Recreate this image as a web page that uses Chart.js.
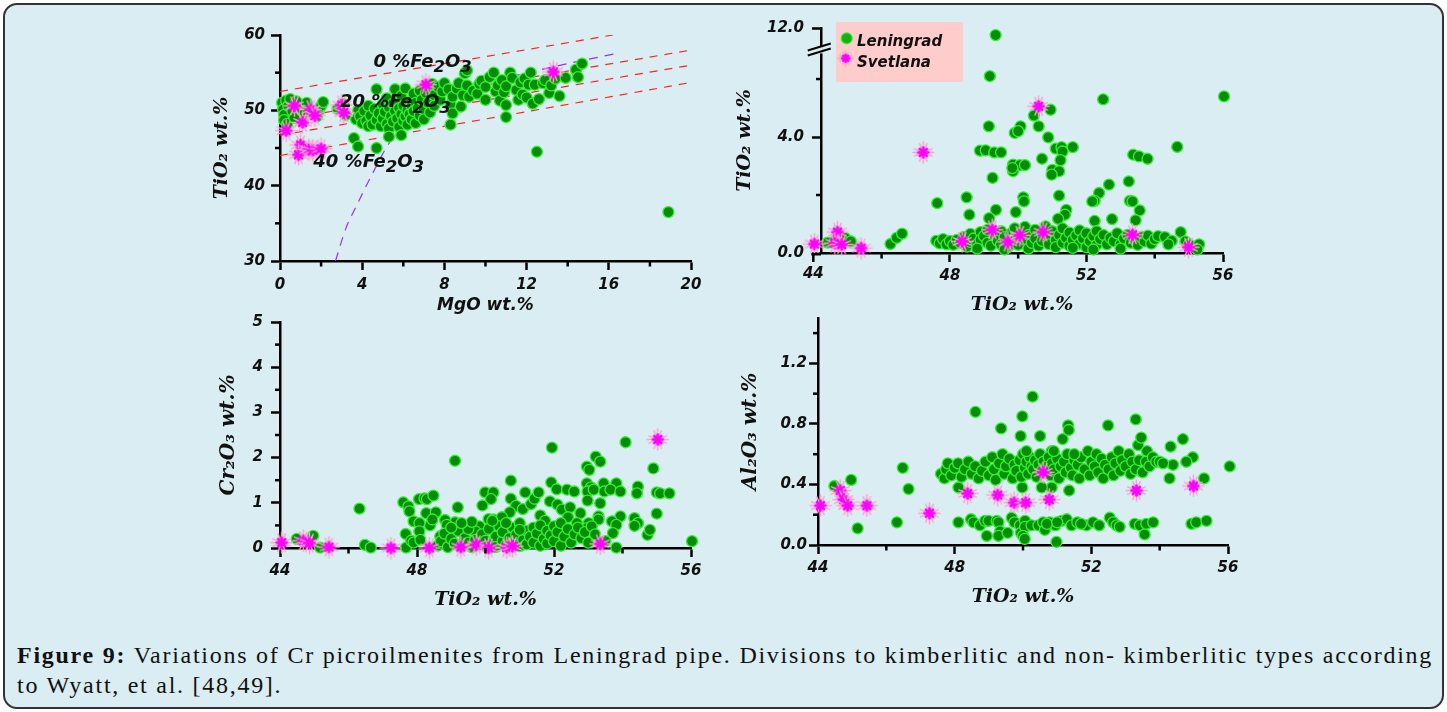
<!DOCTYPE html>
<html>
<head>
<meta charset="utf-8">
<script src="https://cdn.jsdelivr.net/npm/chart.js@4.4.1/dist/chart.umd.min.js"></script>
<style>
html, body { margin: 0; padding: 0; background: #fff; }
body { width: 1447px; height: 712px; position: relative; overflow: hidden; }
#frame { position: absolute; left: 3px; top: 3px; width: 1437px; height: 702px; border: 2px solid #333; border-radius: 14px; background: #d9edf2; }
canvas { position: absolute; }
#cap { position: absolute; left: 17px; top: 640px; width: 1416px; font-family: "Liberation Serif", serif; font-size: 24px; line-height: 30px; color: #111; }
#cap .l1 { text-align: justify; text-align-last: justify; }
</style>
</head>
<body>
<div id="frame"></div>
<canvas id="c1" width="530" height="310" style="left:180px;top:15px"></canvas>
<canvas id="c2" width="530" height="315" style="left:720px;top:5px"></canvas>
<canvas id="c3" width="530" height="310" style="left:180px;top:305px"></canvas>
<canvas id="c4" width="530" height="315" style="left:720px;top:300px"></canvas>
<div id="cap">
  <div class="l1"><b>Figure 9:</b> Variations of Cr picroilmenites from Leningrad pipe. Divisions to kimberlitic and non- kimberlitic types according</div>
  <div>to Wyatt, et al. [48,49].</div>
</div>
<script>
// ---------- данные ----------
// панель 1: MgO (x) – TiO2 (y)
const p1Len = [
  [0.1,51.0],[0.15,50.1],[0.2,49.4],[0.3,51.3],[0.4,50.6],[0.5,51.5],[0.6,49.9],[0.8,51.2],[0.2,48.7],[0.35,48.2],
  [1.0,50.3],[1.2,49.7],[1.3,51.0],[1.8,49.2],[1.9,50.0],[2.0,50.6],[2.1,51.1],[0.7,49.0],
  [2.8,50.2],[3.1,50.8],[3.2,49.4],
  [3.7,48.8],[3.8,50.0],[3.9,49.2],[4.0,48.3],[4.1,49.9],[4.2,48.6],[4.3,47.9],[4.3,50.6],[4.4,49.3],[4.5,48.1],
  [4.6,50.2],[4.7,52.8],[4.7,48.7],[4.8,49.6],[4.9,47.9],[5.0,50.8],[5.0,48.9],[5.1,49.8],[5.2,51.6],[5.2,48.2],
  [5.3,50.4],[5.3,47.6],[5.4,49.2],[5.5,50.9],[5.5,48.5],[5.6,49.9],[5.6,52.8],[5.7,48.9],[5.7,51.3],[5.8,50.3],
  [5.8,47.8],[5.9,49.5],[5.9,51.9],[6.0,48.6],[6.0,50.6],[6.1,49.2],[6.1,52.9],[6.2,50.0],[6.2,48.1],[6.3,51.2],
  [6.3,49.5],[6.4,50.6],[6.4,48.8],[6.5,52.2],[6.5,49.9],[6.6,51.0],[6.6,48.3],[6.7,50.3],[6.8,52.6],[6.8,49.3],
  [6.9,51.4],[7.0,50.1],[7.0,48.8],[7.1,52.3],[7.2,51.0],[7.3,49.7],[7.4,53.5],[7.5,52.0],[7.5,50.6],[7.7,53.1],[7.8,51.4],
  [3.6,46.3],[3.8,45.2],[4.7,45.0],[5.3,46.5],[5.9,46.7],[8.3,48.1],
  [7.9,52.5],[8.0,53.6],[8.2,52.8],[8.3,50.8],[8.4,49.6],[8.4,51.8],[8.6,52.9],[8.7,53.6],[8.8,50.5],[8.9,52.0],
  [9.0,54.9],[9.1,55.3],[9.1,53.3],[9.2,51.8],[9.4,52.6],[9.6,52.2],[9.7,53.5],[9.8,53.9],[10.0,51.4],[10.0,53.1],
  [10.2,54.4],[10.4,55.0],[10.5,52.5],[10.6,53.3],[10.7,51.3],[10.8,54.0],[10.9,52.4],[11.0,50.7],[11.0,53.2],[11.2,55.0],
  [11.3,54.3],[11.5,52.7],[11.6,51.4],[11.7,53.7],[11.8,52.1],[11.9,54.2],[12.0,51.7],[12.1,53.4],[12.2,55.0],[12.3,50.9],
  [12.4,53.4],[12.6,51.5],[12.8,53.6],[12.9,54.0],[13.1,52.3],[13.2,53.3],[13.4,54.2],[13.6,51.9],[13.9,54.3],[14.4,55.4],
  [14.5,54.4],[14.7,56.2],
  [11.0,49.1],[12.5,44.5],[18.9,36.5]
];
const p1Svet = [
  [0.3,47.3],[0.7,50.6],[1.1,48.4],[1.5,50.1],[1.7,49.3],[3.0,50.7],[3.1,49.7],
  [1.0,45.4],[0.9,44.1],[1.4,44.8],[1.6,44.7],[2.0,44.9],[7.1,53.4],[13.3,55.1]
];
// линии 0 / 20 / 40 % Fe2O3 и граница (фиолетовая)
const fe0 = [[0,52.5],[16.2,60.0]];
const fe20a = [[0,48.7],[20,58.0]];
const fe20b = [[0,46.7],[20,56.0]];
const fe40 = [[0,44.0],[20,53.7]];
const kimbCurve = [[2.7,30],[3.2,34.3],[3.7,37.2],[4.5,41.6],[5.3,45.6],[6.3,48.6],[7.5,50.9],[9.0,52.8],
                   [10.4,54.0],[11.6,54.7],[12.7,55.4],[14.5,56.5],[16.3,57.5]];
const feLabels = ['0 %', '20 %', '40 %'];

// панель 2: TiO2 (x) – TiO2 (y, ось с разрывом 7 -> 12)
const p2Len = [
  [49.34,10.4],[49.17,6.1],[52.49,5.3],[56.03,5.4],[50.95,4.94],[50.46,4.74],[50.07,4.37],[49.14,4.37],[49.9,4.14],[50.0,4.2],
  [50.6,4.37],[50.88,3.99],[48.88,3.53],[49.05,3.54],[49.3,3.47],[49.5,3.47],[49.85,3.05],[50.05,3.03],[50.2,3.03],[49.85,2.82],
  [49.83,2.93],[50.7,3.25],[51.1,3.6],[51.27,3.65],[51.3,3.5],[51.6,3.65],[51.24,3.2],[51.0,2.87],[51.2,2.82],[50.98,2.7],
  [49.25,2.59],[53.37,3.39],[53.54,3.33],[53.79,3.25],[54.66,3.66],[53.24,2.47],[52.66,2.36],[52.37,2.07],[52.24,1.8],[52.17,1.78],
  [53.27,1.8],[53.35,1.78],[53.56,1.47],[53.44,1.13],[52.75,1.17],[52.24,1.11],[51.2,1.98],[51.41,1.49],[51.37,1.32],[51.17,1.18],
  [50.15,1.92],[50.17,1.78],[49.93,1.41],[48.49,1.92],[48.57,1.32],[49.35,1.49],[49.15,1.2],[47.63,1.72],
  [46.26,0.31],[46.44,0.52],[46.6,0.67],[44.42,0.36],[44.63,0.4],[44.93,0.52],[45.1,0.4],
  [54.76,0.72],[54.9,0.4],[55.0,0.3],[55.3,0.3],[55.25,0.12],
  [47.6,0.42],[47.7,0.33],[47.8,0.48],[47.9,0.3],[48.0,0.41],[48.1,0.28],[48.2,0.45],[48.3,0.35],[48.4,0.55],[48.5,0.22],
  [48.6,0.66],[48.6,0.38],[48.7,0.5],[48.8,0.3],[48.9,0.72],[48.9,0.45],[49.0,0.58],[49.1,0.35],[49.1,0.8],[49.2,0.25],
  [49.3,0.62],[49.4,0.42],[49.5,0.75],[49.5,0.3],[49.6,0.55],[49.7,0.2],[49.8,0.68],[49.8,0.4],[49.9,0.85],[50.0,0.52],
  [50.0,0.28],[50.1,0.72],[50.2,0.45],[50.2,0.9],[50.3,0.15],[50.3,0.62],[50.4,0.35],[50.5,0.8],[50.5,0.5],[50.6,0.25],
  [50.7,0.68],[50.7,0.42],[50.8,0.92],[50.9,0.55],[50.9,0.3],[51.0,0.75],[51.1,0.45],[51.1,0.2],[51.2,0.62],[51.3,0.85],
  [51.3,0.35],[51.4,0.52],[51.5,0.7],[51.5,0.25],[51.6,0.45],[51.7,0.6],[51.8,0.78],[51.8,0.32],[51.9,0.5],[52.0,0.2],
  [52.0,0.68],[52.1,0.4],[52.2,0.58],[52.3,0.28],[52.3,0.75],[52.4,0.48],[52.5,0.62],[52.6,0.3],[52.7,0.52],[52.8,0.4],
  [52.9,0.68],[53.0,0.3],[53.1,0.5],[53.2,0.62],[53.3,0.35],[53.4,0.48],[53.5,0.28],[53.6,0.55],[53.7,0.4],[53.8,0.6],
  [53.9,0.32],[54.0,0.48],[54.1,0.58],[54.3,0.55],[54.5,0.42],[54.4,0.3],[53.0,0.15],[52.2,0.12],[51.6,0.18],[49.6,0.12],[48.8,0.15]
];
const p2Svet = [
  [44.03,0.31],[44.71,0.72],[44.63,0.34],[44.83,0.29],[45.4,0.17],[47.22,3.47],[48.36,0.4],
  [49.24,0.8],[49.7,0.38],[50.05,0.61],[50.6,5.06],[50.73,0.72],[53.35,0.63],[54.99,0.2]
];

// панель 3: TiO2 – Cr2O3
const p3Len = [
  [44.49,0.2],[44.97,0.27],[45.17,0.01],[46.32,0.87],[46.48,0.07],[46.65,0.01],
  [47.6,1.01],[47.75,0.92],[47.78,0.81],[47.67,0.31],[47.68,0.01],[47.83,0.16],[47.9,0.59],[47.9,0.12],
  [48.06,1.08],[48.22,1.1],[48.29,1.08],[48.48,1.16],[48.27,0.77],[48.55,0.79],[48.38,0.5],[48.45,0.63],[48.07,0.55],[48.07,0.37],[48.1,0.18],
  [49.11,1.93],[49.19,0.9],[49.11,0.57],[49.38,0.51],[48.82,0.62],[48.87,0.51],[48.68,0.26],
  [49.99,1.23],[50.23,1.23],[50.16,1.08],[49.91,0.94],[50.09,0.64],[50.23,0.63],[49.82,0.48],[49.7,0.37],
  [50.74,1.49],[50.74,1.09],[50.89,0.93],[50.71,0.79],[50.48,0.68],[51.16,1.23],[51.09,0.86],[51.33,0.97],[51.43,1.09],[51.55,1.23],[51.6,0.72],[51.74,0.6],
  [51.94,2.22],[51.92,1.45],[52.08,1.3],[51.88,1.03],[52.1,0.96],[52.23,0.85],[52.38,1.29],[52.59,1.25],[52.47,0.9],[52.41,0.68],[52.77,0.77],[52.67,0.55],
  [52.96,1.8],[53.03,1.73],[53.22,2.02],[53.35,1.91],[52.96,1.43],[53.08,1.34],[52.98,1.25],[52.98,1.05],[53.16,1.29],[53.45,1.43],[53.47,1.25],
  [53.35,0.99],[53.3,0.7],[53.3,0.63],[53.01,0.55],[52.96,0.44],
  [53.82,1.43],[53.65,1.29],[53.94,1.25],[53.94,0.7],[53.69,0.59],[53.82,0.51],[53.72,0.33],[53.82,0.01],
  [54.09,2.34],[54.45,1.36],[54.42,1.21],[54.35,0.66],[54.45,0.55],[54.35,0.49],[54.73,0.29],[54.8,0.4],
  [54.9,1.76],[55.0,1.23],[55.1,1.21],[55.37,1.21],[55.0,0.76],[56.03,0.15],
  [48.6,0.05],[48.7,0.15],[48.8,0.32],[48.9,0.02],[49.0,0.2],[49.1,0.1],[49.2,0.38],[49.3,0.05],[49.4,0.22],[49.5,0.12],
  [49.5,0.42],[49.6,0.02],[49.7,0.18],[49.8,0.08],[49.9,0.3],[50.0,0.05],[50.0,0.16],[50.1,0.42],[50.2,0.1],[50.3,0.25],
  [50.3,0.02],[50.4,0.48],[50.5,0.15],[50.5,0.35],[50.6,0.06],[50.7,0.22],[50.8,0.45],[50.8,0.12],[50.9,0.3],[51.0,0.04],
  [51.0,0.55],[51.1,0.18],[51.2,0.38],[51.2,0.08],[51.3,0.25],[51.4,0.45],[51.4,0.12],[51.5,0.32],[51.6,0.05],[51.6,0.5],
  [51.7,0.2],[51.8,0.38],[51.8,0.1],[51.9,0.28],[52.0,0.48],[52.0,0.15],[52.1,0.35],[52.2,0.05],[52.2,0.55],[52.3,0.25],
  [52.4,0.42],[52.5,0.12],[52.6,0.3],[52.7,0.45],[52.8,0.22],[52.9,0.35],[53.0,0.12],[53.1,0.48],[53.2,0.3],[53.5,0.15],
  [49.0,0.45],[49.6,0.58],[50.2,0.6],[50.6,0.55],[51.0,0.4],[49.3,0.55]
];
const p3Svet = [
  [44.05,0.12],[44.68,0.16],[44.86,0.11],[45.43,0.02],[47.24,0.0],[48.36,0.0],[49.28,0.02],
  [49.73,0.07],[50.09,0.0],[50.62,0.01],[50.79,0.04],[53.35,0.09],[55.03,2.4]
];

// панель 4: TiO2 – Al2O3
const p4Len = [
  [44.48,0.39],[44.97,0.43],[45.16,0.11],[46.31,0.15],[46.48,0.51],[46.65,0.37],[48.61,0.88],[49.98,0.85],[50.28,0.98],[49.36,0.77],
  [49.93,0.72],[50.5,0.72],[51.16,0.7],[51.32,0.79],[51.34,0.76],[52.49,0.79],[53.3,0.83],[53.37,0.66],[53.46,0.71],[54.32,0.65],
  [54.68,0.7],[48.11,0.38],[48.11,0.15],[50.84,0.62],[54.29,0.44],[54.39,0.53],[55.3,0.44],[56.05,0.52],[54.97,0.58],[54.78,0.55],
  [53.63,0.62],[51.35,0.36],[50.84,0.38],[50.55,0.38],[49.98,0.38],
  [48.48,0.17],[48.55,0.15],[48.74,0.13],[48.89,0.16],[48.99,0.16],[48.94,0.06],[49.23,0.16],[49.28,0.15],[49.33,0.09],[49.28,0.06],
  [49.55,0.08],[49.67,0.18],[49.75,0.15],[49.91,0.13],[49.94,0.08],[50.06,0.16],[50.06,0.12],[50.0,0.06],[50.05,0.04],[50.25,0.13],
  [50.45,0.13],[50.59,0.15],[50.64,0.1],[50.78,0.15],[50.95,0.13],[50.98,0.02],[51.13,0.16],[51.28,0.17],[51.42,0.13],[51.59,0.15],
  [51.86,0.13],[52.05,0.15],[52.23,0.13],[52.54,0.18],[52.64,0.15],[52.74,0.13],[52.83,0.12],[53.27,0.14],[53.42,0.13],[53.56,0.07],
  [53.61,0.14],[53.81,0.15],[54.93,0.14],[55.07,0.15],[55.37,0.16],[50.7,0.14],[51.0,0.15],[51.7,0.14],
  [47.6,0.47],[47.7,0.44],[47.75,0.5],[47.8,0.54],[47.9,0.46],[48.0,0.51],[48.1,0.54],[48.2,0.45],[48.3,0.5],[48.4,0.55],
  [48.5,0.47],[48.6,0.52],[48.7,0.44],[48.8,0.49],[48.9,0.55],[49.0,0.46],[49.1,0.58],[49.15,0.5],[49.2,0.43],[49.3,0.54],
  [49.4,0.6],[49.45,0.47],[49.5,0.52],[49.6,0.57],[49.7,0.44],[49.75,0.53],[49.8,0.49],[49.9,0.56],[49.95,0.45],[50.0,0.6],
  [50.05,0.51],[50.1,0.55],[50.15,0.47],[50.2,0.58],[50.25,0.52],[50.3,0.5],[50.35,0.56],[50.4,0.45],[50.45,0.53],[50.5,0.6],
  [50.55,0.49],[50.6,0.55],[50.7,0.52],[50.75,0.58],[50.8,0.46],[50.85,0.54],[50.9,0.5],[51.0,0.57],[51.05,0.44],[51.1,0.52],
  [51.2,0.55],[51.25,0.48],[51.3,0.6],[51.4,0.51],[51.45,0.46],[51.5,0.56],[51.6,0.53],[51.65,0.44],[51.7,0.58],[51.8,0.5],
  [51.9,0.62],[51.95,0.46],[52.0,0.55],[52.1,0.52],[52.15,0.6],[52.2,0.48],[52.3,0.57],[52.35,0.44],[52.4,0.53],[52.5,0.5],
  [52.6,0.58],[52.65,0.46],[52.7,0.54],[52.8,0.62],[52.85,0.49],[52.9,0.56],[53.0,0.52],[53.1,0.6],[53.15,0.47],[53.2,0.55],
  [53.3,0.5],[53.4,0.56],[53.5,0.48],[53.6,0.55],[53.7,0.52],[53.8,0.58],[53.9,0.55],[54.0,0.55],[54.1,0.54],[50.1,0.62],[50.9,0.62],[51.5,0.6]
];
const p4Svet = [
  [44.07,0.26],[44.65,0.36],[44.75,0.3],[44.87,0.26],[45.43,0.26],[47.26,0.21],[48.38,0.34],
  [49.26,0.33],[49.74,0.28],[50.08,0.28],[50.59,0.48],[50.77,0.3],[53.32,0.36],[54.99,0.39]
];

// деления осей
const tiTicks = [44, 48, 52, 56], tiMinor = [46, 50, 54];
const p1XTicks = [0, 4, 8, 12, 16, 20], p1XMinor = [2, 6, 10, 14, 18];
const p1YTicks = [30, 40, 50, 60], p1YMinor = [35, 45, 55];
const p2YTicks = [0, 4, 12], p2YLabels = ['0.0', '4.0', '12.0'], p2YMinor = [2, 6];
const p3YTicks = [0, 1, 2, 3, 4, 5], p3YMinor = [0.5, 1.5, 2.5, 3.5, 4.5];
const p4YTicks = [0, 0.4, 0.8, 1.2], p4YLabels = ['0.0', '0.4', '0.8', '1.2'], p4YMinor = [0.2, 0.6, 1.0, 1.4];

// разрыв оси на панели 2: всё выше 7 сжато в узкую полосу до 12
const brkAt = 7, brkTop = 12, brkMax = 7.76;
function brk(v) {
  return v > brkAt ? brkAt + (v - brkAt) * (brkMax - brkAt) / (brkTop - brkAt) : v;
}

// ---------- оформление ----------
const BG = '#d9edf2';
const TICK_PX = 15;
const sansBI = size => ({ family: 'DejaVu Sans', size: size, style: 'italic', weight: 'bold' });
const serifBI = size => ({ family: 'DejaVu Serif', size: size, style: 'italic', weight: 'bold' });

// звёздочка Svetlana
function makeStar(r1, r2) {
  const s = Math.ceil(r1 * 2 + 4);
  const c = document.createElement('canvas');
  c.width = c.height = s;
  const g = c.getContext('2d');
  const m = s / 2;
  g.lineCap = 'round';
  g.strokeStyle = '#ff9fd0';
  g.lineWidth = 1.5;
  for (let k = 0; k < 8; k++) {
    const a = k * Math.PI / 4 + Math.PI / 8;
    g.beginPath(); g.moveTo(m, m); g.lineTo(m + r1 * Math.cos(a), m + r1 * Math.sin(a)); g.stroke();
  }
  for (let k = 0; k < 4; k++) {
    const a = k * Math.PI / 2;
    g.beginPath(); g.moveTo(m, m); g.lineTo(m + (r1 + 1) * Math.cos(a), m + (r1 + 1) * Math.sin(a)); g.stroke();
  }
  g.strokeStyle = '#ff00ff';
  g.lineWidth = 2.6;
  for (let k = 0; k < 8; k++) {
    const a = k * Math.PI / 4;
    g.beginPath(); g.moveTo(m, m); g.lineTo(m + r2 * Math.cos(a), m + r2 * Math.sin(a)); g.stroke();
  }
  return c;
}
const starBig = makeStar(9.5, 5);
const starSmall = makeStar(6.5, 3.5);

function lenDataset(pts, yf) {
  return {
    label: 'Leningrad',
    data: pts.map(p => ({ x: p[0], y: yf ? yf(p[1]) : p[1] })),
    pointStyle: 'circle', pointRadius: 5.5, borderWidth: 1.3,
    backgroundColor: '#078c07', borderColor: '#31f231',
    clip: false, order: 2
  };
}
function svetDataset(pts, yf) {
  return {
    label: 'Svetlana',
    data: pts.map(p => ({ x: p[0], y: yf ? yf(p[1]) : p[1] })),
    pointStyle: starBig, pointRadius: 9,
    clip: false, order: 1
  };
}
function lineDataset(pts, color, dash, tension) {
  return {
    data: pts.map(p => ({ x: p[0], y: p[1] })),
    showLine: true, pointRadius: 0, borderColor: color, borderWidth: 1.2,
    borderDash: dash, tension: tension || 0, cubicInterpolationMode: tension ? 'monotone' : 'default',
    order: 3
  };
}

function axis(o) {
  return {
    type: 'linear', position: o.pos, min: o.min, max: o.max,
    afterBuildTicks: s => { s.ticks = o.ticks.map(v => ({ value: v })); },
    afterFit: s => {
      if (o.pos === 'left') s.width = o.size; else s.height = o.size;
      s.paddingLeft = s.paddingRight = s.paddingTop = s.paddingBottom = 0;
    },
    border: { display: true, color: '#000', width: 2.5 },
    grid: { display: true, drawOnChartArea: false, drawTicks: true, tickLength: 9, tickWidth: 2.5, tickColor: '#000' },
    ticks: {
      autoSkip: false, maxRotation: 0, padding: o.tickPad, color: '#111', font: sansBI(TICK_PX),
      callback: (v, i) => o.labels ? o.labels[i] : String(o.ticks[i])
    },
    title: { display: true, text: o.title, color: '#111', font: o.titleFont, padding: o.titlePad }
  };
}

// короткие промежуточные деления + всё прочее, что рисуется поверх
const decorPlugin = {
  id: 'decor',
  afterDraw(chart, args, opts) {
    const g = chart.ctx;
    const xs = chart.scales.x, ys = chart.scales.y;
    g.save();
    g.strokeStyle = '#000';
    g.lineWidth = 2.5;
    (opts.minorX || []).forEach(v => {
      const px = xs.getPixelForValue(v);
      g.beginPath(); g.moveTo(px, xs.top); g.lineTo(px, xs.top + 5.5); g.stroke();
    });
    (opts.minorY || []).forEach(v => {
      const py = ys.getPixelForValue(v);
      g.beginPath(); g.moveTo(ys.right, py); g.lineTo(ys.right - 5, py); g.stroke();
    });
    g.restore();
    if (opts.extra) opts.extra(chart, g);
  }
};

// текст с нижними индексами: части вида [текст, индекс?]
function subText(g, parts, x, y, size) {
  let cx = x;
  parts.forEach(([t, sub]) => {
    g.font = 'italic bold ' + (sub ? size * 0.92 : size) + 'px "DejaVu Sans"';
    g.fillText(t, cx, y + (sub ? size * 0.3 : 0));
    cx += g.measureText(t).width;
  });
}

function makeChart(id, datasets, xAx, yAx, pad, plug) {
  return new Chart(document.getElementById(id), {
    type: 'scatter',
    data: { datasets: datasets },
    options: {
      responsive: false, animation: false, events: [],
      layout: { padding: { left: 0, top: pad.top, right: pad.right, bottom: 0 } },
      scales: { x: axis(xAx), y: axis(yAx) },
      plugins: { legend: { display: false }, tooltip: { enabled: false }, decor: plug }
    },
    plugins: [decorPlugin]
  });
}

// ---------- панель 1 ----------
const feAnchors = [[4.55, 55.8], [2.92, 50.4], [1.62, 42.5]];
makeChart('c1', [
  svetDataset(p1Svet),
  lenDataset(p1Len),
  lineDataset(fe0, '#ff2222', [8, 7]),
  lineDataset(fe20a, '#ff2222', [8, 7]),
  lineDataset(fe20b, '#ff2222', [8, 7]),
  lineDataset(fe40, '#ff2222', [8, 7]),
  lineDataset(kimbCurve, '#9b2ff0', [9, 7], 0.4)
], {
  pos: 'bottom', min: 0, max: 20, ticks: p1XTicks, size: 64, tickPad: 6,
  title: 'MgO wt.%', titleFont: sansBI(17), titlePad: { top: 0, bottom: 9 }
}, {
  pos: 'left', min: 30, max: 60, ticks: p1YTicks, size: 100, tickPad: 6,
  title: 'TiO\u2082 wt.%', titleFont: serifBI(19), titlePad: { top: 31, bottom: 0 }
}, { top: 20, right: 19 }, {
  minorX: p1XMinor, minorY: p1YMinor,
  extra: (chart, g) => {
    const xs = chart.scales.x, ys = chart.scales.y;
    g.save();
    g.fillStyle = '#111';
    g.textBaseline = 'alphabetic';
    feLabels.forEach((t, i) => {
      subText(g, [[t + 'Fe', 0], ['2', 1], ['O', 0], ['3', 1]],
        xs.getPixelForValue(feAnchors[i][0]), ys.getPixelForValue(feAnchors[i][1]), 18);
    });
    g.restore();
  }
});

// ---------- панель 2 ----------
makeChart('c2', [
  svetDataset(p2Svet, brk),
  lenDataset(p2Len, brk)
], {
  pos: 'bottom', min: 44.225, max: 56, ticks: [48, 52, 56], size: 67, tickPad: 5,
  title: 'TiO\u2082 wt.%', titleFont: serifBI(19), titlePad: { top: 0, bottom: 4 }
}, {
  pos: 'left', min: 0, max: brkMax, ticks: p2YTicks.map(brk), labels: p2YLabels, size: 101, tickPad: 8,
  title: 'TiO\u2082 wt.%', titleFont: serifBI(19), titlePad: { top: 14, bottom: 0 }
}, { top: 23, right: 27 }, {
  minorX: tiMinor, minorY: p2YMinor,
  extra: (chart, g) => {
    const xs = chart.scales.x, ys = chart.scales.y;
    const x44 = xs.getPixelForValue(44), yb = ys.bottom;
    g.save();
    // продолжение оси X влево до 44 и её деление
    g.strokeStyle = '#000'; g.lineWidth = 2.5;
    g.beginPath(); g.moveTo(x44 - 2, yb + 1.25); g.lineTo(xs.left, yb + 1.25); g.stroke();
    g.beginPath(); g.moveTo(x44, yb); g.lineTo(x44, yb + 9); g.stroke();
    g.fillStyle = '#111'; g.font = 'italic bold ' + TICK_PX + 'px "DejaVu Sans"';
    g.textAlign = 'center'; g.textBaseline = 'top';
    g.fillText('44', x44, yb + 14);
    // разрыв оси Y
    const ax = ys.right - 1.25, yBrk = ys.getPixelForValue(brkAt + 0.02);
    g.fillStyle = BG;
    g.fillRect(ax - 3, yBrk - 3, 6, 7);
    g.lineWidth = 2;
    g.beginPath(); g.moveTo(ax - 12, yBrk + 6); g.lineTo(ax + 11, yBrk - 1); g.stroke();
    g.beginPath(); g.moveTo(ax - 12, yBrk + 1); g.lineTo(ax + 11, yBrk - 6); g.stroke();
    // легенда
    g.fillStyle = '#ffcccc';
    g.fillRect(116, 17, 127, 60);
    g.beginPath(); g.arc(126.7, 33.3, 5.5, 0, Math.PI * 2);
    g.fillStyle = '#16b016'; g.fill();
    g.lineWidth = 1.2; g.strokeStyle = '#31f231'; g.stroke();
    g.drawImage(starSmall, 125.7 - starSmall.width / 2, 53.3 - starSmall.height / 2);
    g.fillStyle = '#111'; g.textAlign = 'left'; g.textBaseline = 'alphabetic';
    g.font = 'italic bold 15px "DejaVu Sans"';
    g.fillText('Leningrad', 137, 40.5);
    g.fillText('Svetlana', 137, 62);
    g.restore();
  }
});

// ---------- панель 3 ----------
makeChart('c3', [
  svetDataset(p3Svet),
  lenDataset(p3Len)
], {
  pos: 'bottom', min: 44, max: 56, ticks: tiTicks, size: 67, tickPad: 5,
  title: 'TiO\u2082 wt.%', titleFont: serifBI(19), titlePad: { top: 0, bottom: 4 }
}, {
  pos: 'left', min: 0, max: 5, ticks: p3YTicks, size: 100, tickPad: 8,
  title: 'Cr\u2082O\u2083 wt.%', titleFont: serifBI(20), titlePad: { top: 37, bottom: 0 }
}, { top: 17, right: 19 }, { minorX: tiMinor, minorY: p3YMinor });

// ---------- панель 4 ----------
makeChart('c4', [
  svetDataset(p4Svet),
  lenDataset(p4Len)
], {
  pos: 'bottom', min: 44, max: 56, ticks: tiTicks, size: 70, tickPad: 5,
  title: 'TiO\u2082 wt.%', titleFont: serifBI(19), titlePad: { top: 0, bottom: 7 }
}, {
  pos: 'left', min: 0, max: 1.5, ticks: p4YTicks, labels: p4YLabels, size: 98, tickPad: 2,
  title: 'Al\u2082O\u2083 wt.%', titleFont: serifBI(20), titlePad: { top: 19, bottom: 0 }
}, { top: 18, right: 22 }, { minorX: tiMinor, minorY: p4YMinor });

// подпись: подгоняем межбуквенный интервал, чтобы первая строка заняла всю ширину
(function fitCaption() {
  const cap = document.getElementById('cap');
  const l1 = cap.querySelector('.l1');
  l1.style.display = 'inline-block';
  l1.style.whiteSpace = 'nowrap';
  const w = l1.getBoundingClientRect().width;
  const n = l1.textContent.length;
  l1.style.display = '';
  l1.style.whiteSpace = '';
  const ls = Math.max(0, (1414 - w) / n);
  cap.style.letterSpacing = ls.toFixed(2) + 'px';
})();
</script>
</body>
</html>
